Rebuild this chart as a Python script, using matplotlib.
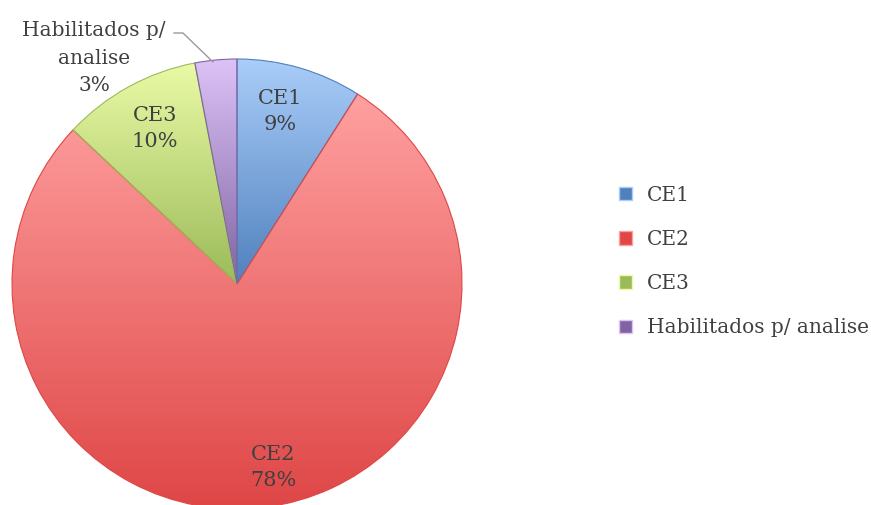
import numpy as np
import matplotlib.pyplot as plt
from matplotlib.colors import LinearSegmentedColormap
from matplotlib.patches import Patch

categorias = ['CE1', 'CE2', 'CE3', 'Habilitados p/ analise']
valores = [9, 78, 10, 3]
# cor clara (topo) e cor escura (base) de cada fatia
cores_claras = ['#aacdf9', '#ffa0a0', '#eafaa6', '#dcc2f7']
cores_escuras = ['#4f81bd', '#df4646', '#9bbb59', '#8064a2']

plt.rcParams['font.family'] = ['DejaVu Serif']

fig = plt.figure(figsize=(8.71, 5.05), dpi=100)
ax = fig.add_axes([0, 0, 1, 1])

cx, cy, R = 237, 505 - 284, 225
wedges, _ = ax.pie(valores, startangle=90, counterclock=False,
                   center=(cx, cy), radius=R, frame=True,
                   wedgeprops=dict(linewidth=0.8))
ax.set_xlim(0, 871)
ax.set_ylim(0, 505)
ax.set_aspect('equal')
ax.axis('off')

grad = np.linspace(0, 1, 256).reshape(-1, 1)
for w, c1, c2 in zip(wedges, cores_claras, cores_escuras):
    w.set_facecolor('none')
    w.set_edgecolor(c2)
    bb = w.get_path().get_extents(w.get_transform())
    bb = ax.transData.inverted().transform_bbox(bb)
    cmap = LinearSegmentedColormap.from_list('g', [c2, c1])
    im = ax.imshow(grad, cmap=cmap, aspect='auto', origin='lower',
                   extent=[bb.x0, bb.x1, bb.y0, bb.y1], zorder=0.5)
    im.set_clip_path(w)

# rotulos internos (distancia radial e desvio angular de cada um)
dist = [0.79, 0.83, 0.78]
desvio = [2, 4, -1]
total = sum(valores)
ang = 90
for i, (cat, v) in enumerate(zip(categorias, valores)):
    meio = ang - v / total * 180
    ang -= v / total * 360
    if i == 3:
        continue
    r = dist[i] * R
    a = np.deg2rad(meio + desvio[i])
    ax.text(cx + r * np.cos(a), cy + r * np.sin(a), f'{cat}\n{v}%',
            ha='center', va='center', fontsize=15, color='#404040',
            linespacing=1.45)

# rotulo externo com linha guia
ax.plot([174, 183, 213], [505 - 33, 505 - 33, 505 - 62], color='#9a9a9a', lw=1)
ax.text(94, 505 - 58, f'Habilitados p/\nanalise\n{valores[3]}%', ha='center',
        va='center', fontsize=14.5, color='#404040', linespacing=1.55)

handles = [Patch(facecolor=c, edgecolor=c1, linewidth=1)
           for c, c1 in zip(cores_escuras, cores_claras)]
ax.legend(handles, categorias, loc='center left', bbox_to_anchor=(0.69, 0.482),
          frameon=False, fontsize=14.5, labelcolor='#404040',
          handlelength=0.65, handleheight=0.65, handletextpad=0.75,
          labelspacing=1.25)

plt.savefig('out.png', dpi=100)
